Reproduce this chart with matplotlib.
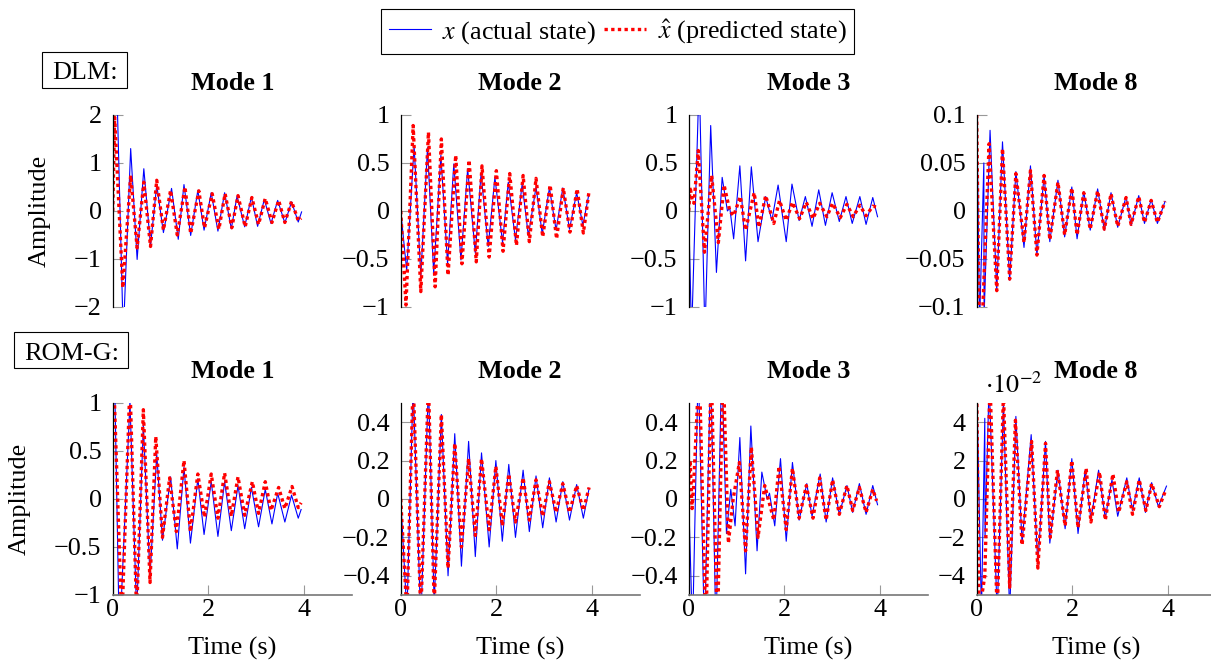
import matplotlib.pyplot as plt
from matplotlib.lines import Line2D
from matplotlib.patches import Rectangle

plt.rcParams['font.family'] = ['Liberation Serif', 'DejaVu Serif']
plt.rcParams['mathtext.fontset'] = 'stix'
plt.rcParams['font.size'] = 18.8

# ---- data: extrema of each trace (time in s, amplitude) ----
# DLM, mode 1
dlm1_t_act = [0, 0.08, 0.22, 0.375, 0.51, 0.65, 0.79, 0.92, 1.06, 1.23, 1.37, 1.49, 1.63, 1.78, 1.91,
              2.06, 2.20, 2.34, 2.48, 2.60, 2.76, 2.90, 3.03, 3.17, 3.31, 3.45, 3.60, 3.74, 3.88, 3.95]
dlm1_act = [2.8, 2.8, -2.6, 1.3, -1.01, 0.88, -0.72, 0.54, -0.45, 0.47, -0.59, 0.55, -0.51, 0.43, -0.40,
            0.38, -0.42, 0.38, -0.37, 0.31, -0.33, 0.29, -0.32, 0.24, -0.26, 0.22, -0.25, 0.19, -0.23, -0.02]
dlm1_t_pred = [0, 0.04, 0.21, 0.375, 0.51, 0.65, 0.79, 0.92, 1.06, 1.21, 1.35, 1.51, 1.63, 1.80, 1.92,
               2.08, 2.22, 2.35, 2.49, 2.62, 2.77, 2.91, 3.05, 3.19, 3.33, 3.47, 3.60, 3.74, 3.88, 3.94]
dlm1_pred = [0.0, 1.95, -1.6, 0.74, -0.77, 0.6, -0.74, 0.64, -0.40, 0.43, -0.50, 0.50, -0.47, 0.42, -0.35,
             0.36, -0.38, 0.36, -0.35, 0.32, -0.33, 0.28, -0.28, 0.26, -0.24, 0.22, -0.24, 0.2, -0.2, -0.15]

# DLM, mode 2
dlm2_t_act = [0, 0.125, 0.28, 0.42, 0.56, 0.69, 0.84, 0.98, 1.11, 1.26, 1.40, 1.56, 1.68, 1.83, 1.97,
              2.13, 2.25, 2.40, 2.54, 2.67, 2.83, 2.96, 3.11, 3.25, 3.39, 3.53, 3.68, 3.81, 3.93]
dlm2_act = [0, -0.62, 0.68, -0.68, 0.66, -0.65, 0.58, -0.55, 0.49, -0.51, 0.44, -0.44, 0.39, -0.37, 0.35,
            -0.33, 0.30, -0.30, 0.28, -0.26, 0.25, -0.24, 0.24, -0.20, 0.24, -0.19, 0.19, -0.15, 0.16]
dlm2_t_pred = [0, 0.11, 0.26, 0.42, 0.58, 0.72, 0.85, 0.99, 1.15, 1.28, 1.43, 1.58, 1.70, 1.85, 2.0,
               2.14, 2.28, 2.42, 2.56, 2.69, 2.83, 2.97, 3.125, 3.26, 3.40, 3.54, 3.69, 3.82, 3.94]
dlm2_pred = [0, -0.98, 0.89, -0.84, 0.82, -0.79, 0.75, -0.67, 0.58, -0.55, 0.53, -0.53, 0.47, -0.48, 0.42,
             -0.42, 0.39, -0.36, 0.37, -0.32, 0.34, -0.27, 0.27, -0.29, 0.24, -0.22, 0.23, -0.23, 0.21]

# DLM, mode 3
dlm3_t_act = [0, 0.06, 0.22, 0.34, 0.46, 0.58, 0.70, 0.81, 0.86, 0.94, 1.07, 1.19, 1.31, 1.45, 1.61, 1.74,
              1.87, 2.04, 2.16, 2.31, 2.44, 2.58, 2.72, 2.86, 3.0, 3.15, 3.29, 3.42, 3.58, 3.71, 3.85, 3.95]
dlm3_act = [0, -1.3, 1.4, -1.3, 0.89, -0.64, 0.35, 0.0, 0.03, -0.29, 0.47, -0.52, 0.46, -0.32, 0.15, -0.10,
            0.27, -0.32, 0.28, -0.10, 0.15, -0.16, 0.22, -0.15, 0.19, -0.11, 0.15, -0.13, 0.15, -0.14, 0.14, -0.06]
dlm3_t_pred = [0, 0.03, 0.07, 0.11, 0.2, 0.33, 0.48, 0.62, 0.74, 0.86, 0.94, 1.08, 1.19, 1.37, 1.47, 1.61, 1.78,
               1.90, 2.04, 2.17, 2.32, 2.46, 2.60, 2.74, 2.89, 3.01, 3.17, 3.31, 3.44, 3.58, 3.71, 3.85, 3.93]
dlm3_pred = [0.0, 0.25, 0.12, 0.08, 0.63, -0.43, 0.37, -0.33, 0.27, 0.0, -0.05, 0.15, -0.2, 0.19, -0.17, 0.16, -0.13,
             0.11, -0.10, 0.09, -0.08, 0.09, -0.08, 0.08, -0.06, 0.08, -0.07, 0.07, -0.06, 0.06, -0.05, 0.05, 0.04]

# DLM, mode 8
dlm8_t_act = [0, 0.06, 0.15, 0.155, 0.28, 0.42, 0.54, 0.69, 0.82, 0.99, 1.125, 1.26, 1.41, 1.53, 1.70, 1.84,
              1.99, 2.10, 2.24, 2.375, 2.53, 2.67, 2.81, 2.95, 3.125, 3.23, 3.39, 3.51, 3.65, 3.78, 3.94]
dlm8_act = [0.12, -0.12, 0.05, -0.11, 0.084, -0.083, 0.072, -0.072, 0.041, -0.038, 0.047, -0.046, 0.037, -0.032,
            0.032, -0.027, 0.025, -0.029, 0.020, -0.020, 0.023, -0.020, 0.019, -0.017, 0.015, -0.015, 0.016,
            -0.013, 0.012, -0.013, 0.010]
dlm8_t_pred = [0, 0.05, 0.13, 0.26, 0.42, 0.54, 0.69, 0.82, 0.99, 1.125, 1.26, 1.41, 1.53, 1.70, 1.84,
               1.99, 2.10, 2.24, 2.375, 2.53, 2.67, 2.81, 2.95, 3.125, 3.23, 3.39, 3.51, 3.65, 3.78, 3.94]
dlm8_pred = [0.1, -0.11, -0.1, 0.07, -0.083, 0.065, -0.071, 0.039, -0.033, 0.042, -0.046, 0.037, -0.030, 0.030,
             -0.025, 0.024, -0.025, 0.019, -0.019, 0.021, -0.019, 0.018, -0.016, 0.014, -0.014, 0.015, -0.012,
             0.011, -0.012, 0.010]

# ROM-G, mode 1
rom1_t_act = [0, 0.03, 0.14, 0.36, 0.5, 0.64, 0.78, 0.92, 1.04, 1.21, 1.35, 1.49, 1.625, 1.78, 1.91,
              2.06, 2.20, 2.34, 2.48, 2.62, 2.76, 2.90, 3.05, 3.19, 3.33, 3.45, 3.60, 3.74, 3.88, 3.94]
rom1_act = [1.5, 1.5, -1.5, 1.02, -1.2, 0.77, -0.81, 0.47, -0.43, 0.23, -0.52, 0.33, -0.46, 0.21, -0.37,
            0.18, -0.39, 0.18, -0.33, 0.14, -0.31, 0.12, -0.29, 0.10, -0.26, 0.06, -0.24, 0.04, -0.20, -0.11]
rom1_t_pred = [0, 0.03, 0.19, 0.36, 0.5, 0.64, 0.78, 0.90, 1.04, 1.19, 1.33, 1.49, 1.625, 1.78, 1.92,
               2.06, 2.20, 2.34, 2.48, 2.62, 2.76, 2.92, 3.05, 3.19, 3.31, 3.47, 3.60, 3.75, 3.88, 3.94]
rom1_pred = [1.1, 1.1, -1.3, 1.2, -1.2, 0.93, -0.87, 0.65, -0.40, 0.22, -0.34, 0.40, -0.34, 0.26, -0.19,
             0.26, -0.20, 0.27, -0.18, 0.23, -0.17, 0.18, -0.15, 0.18, -0.12, 0.12, -0.10, 0.13, -0.09, -0.04]

# ROM-G, mode 2
rom2_t = [0, 0.13, 0.26, 0.42, 0.58, 0.70, 0.85, 0.99, 1.13, 1.27, 1.42, 1.56, 1.69, 1.85, 1.99,
          2.125, 2.26, 2.40, 2.56, 2.69, 2.83, 2.97, 3.11, 3.25, 3.39, 3.53, 3.68, 3.82, 3.94]
rom2_act = [0, -0.6, 0.6, -0.65, 0.6, -0.55, 0.44, -0.40, 0.34, -0.35, 0.30, -0.30, 0.24, -0.25, 0.20,
            -0.22, 0.18, -0.20, 0.15, -0.17, 0.12, -0.15, 0.11, -0.12, 0.09, -0.11, 0.075, -0.10, 0.055]
rom2_pred = [0, -0.6, 0.62, -0.6, 0.6, -0.55, 0.44, -0.36, 0.29, -0.25, 0.21, -0.19, 0.21, -0.16, 0.17,
             -0.14, 0.13, -0.12, 0.11, -0.11, 0.10, -0.09, 0.09, -0.07, 0.08, -0.07, 0.07, -0.06, 0.06]

# ROM-G, mode 3
rom3_t_act = [0, 0.08, 0.2, 0.33, 0.46, 0.57, 0.69, 0.79, 0.88, 0.97, 1.07, 1.19, 1.30, 1.43, 1.53, 1.64, 1.69,
              1.80, 1.92, 2.04, 2.17, 2.31, 2.47, 2.58, 2.75, 2.875, 3.01, 3.15, 3.31, 3.43, 3.57, 3.71, 3.85, 3.95]
rom3_act = [0, -0.7, 0.7, -0.7, 0.7, -0.7, 0.7, -0.18, 0.05, -0.14, 0.32, -0.39, 0.38, -0.27, 0.14, 0.0, 0.03,
            -0.14, 0.21, -0.22, 0.19, -0.11, 0.08, -0.09, 0.13, -0.12, 0.11, -0.08, 0.07, -0.07, 0.08, -0.08, 0.07, -0.03]
rom3_t_pred = [0, 0.03, 0.07, 0.1, 0.22, 0.36, 0.47, 0.6, 0.72, 0.83, 0.93, 1.06, 1.19, 1.31, 1.45, 1.59, 1.78,
               1.89, 2.04, 2.17, 2.31, 2.46, 2.60, 2.74, 2.875, 3.01, 3.15, 3.31, 3.43, 3.57, 3.71, 3.85, 3.93]
rom3_pred = [0.1, 0.2, -0.05, 0.05, 0.7, -0.7, 0.7, -0.7, 0.7, -0.23, 0.0, 0.19, -0.27, 0.27, -0.20, 0.07, -0.11,
             0.17, -0.16, 0.16, -0.10, 0.07, -0.10, 0.11, -0.11, 0.10, -0.08, 0.07, -0.06, 0.06, -0.07, 0.05, -0.01]

# ROM-G, mode 8
rom8_t_act = [0, 0.1, 0.17, 0.175, 0.26, 0.43, 0.56, 0.69, 0.82, 0.95, 1.14, 1.28, 1.44, 1.53, 1.70, 1.85,
              1.99, 2.12, 2.27, 2.39, 2.55, 2.69, 2.83, 2.95, 3.14, 3.26, 3.40, 3.53, 3.66, 3.80, 3.97]
rom8_act = [0.06, -0.06, 0.042, -0.02, 0.06, -0.06, 0.05, -0.06, 0.043, -0.023, 0.0335, -0.034, 0.030, -0.023,
            0.015, -0.0155, 0.021, -0.018, 0.015, -0.011, 0.015, -0.010, 0.010, -0.009, 0.011, -0.006, 0.011,
            -0.007, 0.0085, -0.004, 0.0067]
rom8_t_pred = [0, 0.05, 0.17, 0.28, 0.43, 0.56, 0.69, 0.81, 0.95, 1.15, 1.28, 1.44, 1.54, 1.69, 1.85,
               1.99, 2.12, 2.29, 2.39, 2.57, 2.69, 2.85, 2.97, 3.14, 3.26, 3.40, 3.54, 3.66, 3.82, 3.96]
rom8_pred = [0.06, -0.06, -0.04, 0.06, -0.06, 0.055, -0.046, 0.041, -0.024, 0.030, -0.036, 0.029, -0.020, 0.015,
             -0.014, 0.020, -0.015, 0.016, -0.012, 0.014, -0.011, 0.013, -0.007, 0.009, -0.008, 0.010, -0.006,
             0.008, -0.004, 0.005]

modes = ['Mode 1', 'Mode 2', 'Mode 3', 'Mode 8']
dlm_series = [(dlm1_t_act, dlm1_act, dlm1_t_pred, dlm1_pred),
              (dlm2_t_act, dlm2_act, dlm2_t_pred, dlm2_pred),
              (dlm3_t_act, dlm3_act, dlm3_t_pred, dlm3_pred),
              (dlm8_t_act, dlm8_act, dlm8_t_pred, dlm8_pred)]
rom_series = [(rom1_t_act, rom1_act, rom1_t_pred, rom1_pred),
              (rom2_t, rom2_act, rom2_t, rom2_pred),
              (rom3_t_act, rom3_act, rom3_t_pred, rom3_pred),
              (rom8_t_act, rom8_act, rom8_t_pred, rom8_pred)]
dlm_ylims = [(-2, 2), (-1, 1), (-1, 1), (-0.1, 0.1)]
dlm_yticks = [[-2, -1, 0, 1, 2], [-1, -0.5, 0, 0.5, 1], [-1, -0.5, 0, 0.5, 1], [-0.1, -0.05, 0, 0.05, 0.1]]
rom_ylims = [(-1, 1), (-0.5, 0.5), (-0.5, 0.5), (-0.05, 0.05)]
rom_yticks = [[-1, -0.5, 0, 0.5, 1], [-0.4, -0.2, 0, 0.2, 0.4], [-0.4, -0.2, 0, 0.2, 0.4],
              [-0.04, -0.02, 0, 0.02, 0.04]]
rom_scale = [1, 1, 1, 100]   # last panel is labelled in units of 10^-2
xticks = [0, 2, 4]


def fmt(v):
    return f"{v:g}".replace('-', '\u2212')


fig = plt.figure(figsize=(12.11, 6.63), dpi=100)

lefts = [0.0931, 0.3309, 0.5687, 0.8065]
width = 0.1974
height = 0.2896
rows = [(dlm_series, dlm_ylims, dlm_yticks, [1, 1, 1, 1], 0.5370, False),
        (rom_series, rom_ylims, rom_yticks, rom_scale, 0.1026, True)]

for series, ylims, yticks, scales, bottom, has_x in rows:
    for col in range(4):
        ax = fig.add_axes([lefts[col], bottom, width, height])
        t_act, y_act, t_pred, y_pred = series[col]
        ax.plot(t_act, y_act, color='#0000ff', lw=0.8)
        ax.plot(t_pred, y_pred, color='#ff0000', lw=2.4, ls=(0, (1, 1)))
        ax.set_xlim(0, 5)
        ax.set_ylim(*ylims[col])
        ax.set_yticks(yticks[col])
        ax.set_yticklabels([fmt(v * scales[col]) for v in yticks[col]])
        ax.tick_params(axis='y', direction='in', length=7.5, width=0.8, color='#999999', pad=8)
        for s in ['top', 'right']:
            ax.spines[s].set_visible(False)
        ax.spines['left'].set_color('black')
        ax.spines['left'].set_linewidth(0.9)
        if has_x:
            ax.set_xticks(xticks)
            ax.set_xticklabels([fmt(v) for v in xticks])
            ax.tick_params(axis='x', direction='in', length=7.5, width=0.8, color='#999999', pad=3)
            ax.spines['bottom'].set_color('#777777')
            ax.spines['bottom'].set_linewidth(1.2)
            ax.text(0.5, -0.3125, 'Time (s)', transform=ax.transAxes, ha='center', va='baseline')
        else:
            ax.spines['bottom'].set_visible(False)
            ax.set_xticks([])
        ax.text(0.5, 1.132, modes[col], transform=ax.transAxes, ha='center', va='baseline',
                fontweight='bold')
        if scales[col] != 1:
            ax.text(0.035, 1.055, r'$\cdot 10^{-2}$', transform=ax.transAxes, ha='left', va='baseline')

# y labels
fig.text(0.033, 0.6817, 'Amplitude', rotation=90, ha='center', va='center')
fig.text(0.0165, 0.2474, 'Amplitude', rotation=90, ha='center', va='center')

# row tags in boxes
fig.add_artist(Rectangle((0.0349, 0.8668), 0.0699, 0.0552, transform=fig.transFigure,
                         fill=False, edgecolor='black', lw=0.8))
fig.text(0.0699, 0.8804, 'DLM:', ha='center', va='baseline')
fig.add_artist(Rectangle((0.01156, 0.4445), 0.0944, 0.0552, transform=fig.transFigure,
                         fill=False, edgecolor='black', lw=0.8))
fig.text(0.0592, 0.457, 'ROM-G:', ha='center', va='baseline')

# shared legend
handles = [Line2D([], [], color='#0000ff', lw=0.8),
           Line2D([], [], color='#ff0000', lw=2.4, ls=(0, (1, 1)))]
leg = fig.legend(handles, [r'$x$ (actual state)', r'$\hat{x}$ (predicted state)'],
                 loc='center', bbox_to_anchor=(0.510, 0.9525), ncol=2, frameon=True,
                 fancybox=False, edgecolor='black', framealpha=1, borderpad=0.3,
                 handlelength=1.6, handletextpad=0.45, columnspacing=0.3, borderaxespad=0)
leg.get_frame().set_linewidth(0.8)

fig.savefig('out.png', dpi=100)
